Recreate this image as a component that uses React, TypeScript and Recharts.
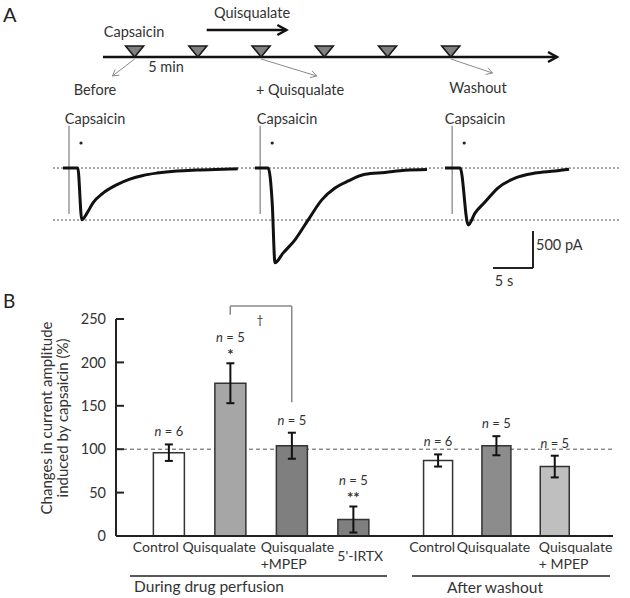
import React from 'react';
import {
  BarChart, Bar, XAxis, YAxis, ErrorBar, ReferenceLine, ReferenceDot, LabelList, Cell,
  LineChart, Line, ScatterChart, Scatter,
} from 'recharts';

const FONT = 'Lato, "Noto Sans", sans-serif';
const INK = '#222';
const TEXT = '#333';

// ---- Panel A: protocol (minutes) ----
const capsaicinTimes = [0, 5, 10, 15, 20, 25];
const quisqualateSpan = [5.7, 12];
const sampledTimes = [0, 10, 25];

// ---- Panel A: current traces (time in s, current in pA) ----
const beforeTime = [1.25, 3.1, 3.6, 4.25, 5.0, 6.25, 8.0, 9.6, 11.25, 13.0, 15.5, 18.0, 22.1, 23.1];
const beforeCurrent = [0, 0, -700, -610, -470, -340, -225, -150, -100, -68, -40, -27, -14, -10];
const quisTime = [25.25, 26.9, 27.4, 27.75, 28.75, 30.25, 31.9, 33.6, 35.25, 36.9, 39.0, 41.5, 44.0, 46.75];
const quisCurrent = [0, 0, -470, -1280, -1150, -970, -700, -430, -270, -175, -85, -60, -30, -20];
const washTime = [49.0, 50.9, 51.9, 52.75, 54.0, 55.6, 57.75, 60.25, 62.75, 64.5];
const washCurrent = [0, 0, -770, -610, -460, -270, -135, -68, -40, -15];
const capsaicinOnset = [2.0, 25.9, 49.9];
const peakBefore = -703;

// ---- Panel B: amplitude (% of before) ----
const duringLabels = ['Control', 'Quisqualate', 'Quisqualate\n+MPEP', "5'-IRTX"];
const duringMean = [96, 176, 104, 19];
const duringSem = [9.5, 23, 15, 15];
const duringN = [6, 5, 5, 5];
const duringMarks = ['', '*', '', '**'];
const afterLabels = ['Control', 'Quisqualate', 'Quisqualate\n+ MPEP'];
const afterMean = [87, 104, 80];
const afterSem = [7, 11, 12.5];
const afterN = [6, 5, 5];
const afterMarks = ['', '', ''];
const yTicks = [0, 50, 100, 150, 200, 250];

const duringFill = ['#ffffff', '#a6a6a6', '#7f7f7f', '#7f7f7f'];
const afterFill = ['#ffffff', '#8c8c8c', '#bfbfbf'];

const toPoints = (t: number[], pA: number[]) => t.map((v, i) => ({ t: v, pA: pA[i] }));
const rows = (labels: string[], mean: number[], sem: number[], n: number[], marks: string[]) =>
  labels.map((label, i) => ({ label, mean: mean[i], sem: sem[i], n: n[i], mark: marks[i] }));

const duringData = rows(duringLabels, duringMean, duringSem, duringN, duringMarks);
const afterData = rows(afterLabels, afterMean, afterSem, afterN, afterMarks);

// line with open chevron head, used as ReferenceLine shape
const arrowShape = (color: string, width: number, head: number, spread: number) => (p: any) => {
  const { x1, y1, x2, y2 } = p;
  const a = Math.atan2(y2 - y1, x2 - x1);
  const c = Math.cos(a);
  const s = Math.sin(a);
  const w1 = `${x2 - head * c + spread * s},${y2 - head * s - spread * c}`;
  const w2 = `${x2 - head * c - spread * s},${y2 - head * s + spread * c}`;
  return (
    <g>
      <line x1={x1} y1={y1} x2={x2} y2={y2} stroke={color} strokeWidth={width} />
      <path d={`M${w1} L${x2},${y2} L${w2}`} fill="none" stroke={color} strokeWidth={width} />
    </g>
  );
};

const DownTriangle = (props: any) => {
  const { cx, cy } = props;
  return (
    <path
      d={`M${cx - 9},${cy - 11} L${cx + 9},${cy - 11} L${cx},${cy} Z`}
      fill="#7f7f7f"
      stroke="#1a1a1a"
      strokeWidth={1.6}
    />
  );
};

// n = x and significance marks above each error bar
const nLabel = (data: any[]) => (props: any) => {
  const vb = props.viewBox && props.viewBox.width != null ? props.viewBox : props;
  const row = data[props.index];
  if (!row) return null;
  const h = Math.abs(vb.height);
  const base = vb.y + h;
  const unit = h / row.mean;
  const top = base - (row.mean + row.sem) * unit;
  const cx = vb.x + vb.width / 2;
  return (
    <g fontFamily={FONT} fill={TEXT}>
      {row.mark ? (
        <text x={cx} y={top - 3} textAnchor="middle" fontSize={15} fontWeight="bold">{row.mark}</text>
      ) : null}
      <text x={cx} y={row.mark ? top - 21 : top - 8} textAnchor="middle" fontSize={13}>
        <tspan fontStyle="italic">n</tspan> = {row.n}
      </text>
    </g>
  );
};

type TickLayout = { dx: number; dy: number; anchor: 'start' | 'middle' };
const categoryTick = (layout: TickLayout[]) => (props: any) => {
  const { x, y, payload, index } = props;
  const l = layout[index] || { dx: 0, dy: 16, anchor: 'middle' };
  const lines = String(payload.value).split('\n');
  return (
    <g>
      {lines.map((s, i) => (
        <text
          key={i}
          x={x + l.dx}
          y={y + l.dy + i * 17}
          textAnchor={l.anchor}
          fontFamily={FONT}
          fontSize={14}
          fill={TEXT}
        >
          {s}
        </text>
      ))}
    </g>
  );
};

const duringTicks: TickLayout[] = [
  { dx: -13, dy: 16, anchor: 'middle' },
  { dx: -11, dy: 16, anchor: 'middle' },
  { dx: -31, dy: 16, anchor: 'start' },
  { dx: 7, dy: 25, anchor: 'middle' },
];
const afterTicks: TickLayout[] = [
  { dx: -6, dy: 16, anchor: 'middle' },
  { dx: -3, dy: 16, anchor: 'middle' },
  { dx: -16, dy: 16, anchor: 'start' },
];

const axisStroke = { stroke: INK, strokeWidth: 2 };

export default function App() {
  const traces = [toPoints(beforeTime, beforeCurrent), toPoints(quisTime, quisCurrent), toPoints(washTime, washCurrent)];
  const text = { fontFamily: FONT, fill: TEXT, fontSize: 14.5 } as const;

  return (
    <div style={{ position: 'relative', width: 630, height: 598, background: '#fff', overflow: 'hidden' }}>
      <style>{'body{margin:0}'}</style>

      {/* protocol timeline */}
      <div style={{ position: 'absolute', left: 0, top: 0 }}>
        <ScatterChart width={630} height={105} margin={{ top: 0, right: 73, bottom: 5, left: 103 }}>
          <XAxis type="number" dataKey="t" domain={[-2.5, 33.4]} hide />
          <YAxis type="number" dataKey="row" domain={[0, 100]} reversed hide />
          <ReferenceLine
            segment={[{ x: -2.5, y: 57 }, { x: 33.4, y: 57 }]}
            ifOverflow="visible"
            shape={arrowShape('#111', 2.5, 9, 5)}
          />
          <ReferenceLine
            segment={[{ x: quisqualateSpan[0], y: 30 }, { x: quisqualateSpan[1], y: 30 }]}
            ifOverflow="visible"
            shape={arrowShape('#111', 2.5, 9, 5)}
          />
          <ReferenceLine segment={[{ x: sampledTimes[0], y: 59 }, { x: sampledTimes[0] - 1.75, y: 76 }]} ifOverflow="visible" shape={arrowShape('#8a8a8a', 1, 6, 3.5)} />
          <ReferenceLine segment={[{ x: sampledTimes[1], y: 59 }, { x: sampledTimes[1] + 4.4, y: 76 }]} ifOverflow="visible" shape={arrowShape('#8a8a8a', 1, 6, 3.5)} />
          <ReferenceLine segment={[{ x: sampledTimes[2], y: 59 }, { x: sampledTimes[2] + 3.3, y: 73 }]} ifOverflow="visible" shape={arrowShape('#8a8a8a', 1, 6, 3.5)} />
          <Scatter
            data={capsaicinTimes.map((t) => ({ t, row: 57 }))}
            shape={DownTriangle}
            isAnimationActive={false}
          />
        </ScatterChart>
      </div>

      {/* current traces */}
      <div style={{ position: 'absolute', left: 0, top: 100 }}>
        <LineChart width={630} height={200} margin={{ top: 8, right: 9, bottom: 8, left: 53 }}>
          <XAxis type="number" dataKey="t" domain={[0, 71]} hide />
          <YAxis type="number" domain={[-1675, 811]} hide />
          <ReferenceLine y={0} stroke="#555" strokeDasharray="2 2" />
          <ReferenceLine y={peakBefore} stroke="#555" strokeDasharray="2 2" />
          {capsaicinOnset.map((t) => (
            <ReferenceLine key={`on-${t}`} segment={[{ x: t, y: 570 }, { x: t, y: -620 }]} stroke="#9a9a9a" strokeWidth={1.5} />
          ))}
          {capsaicinOnset.map((t) => (
            <ReferenceDot key={`dot-${t}`} x={t + 1.5} y={338} r={1.6} fill={INK} stroke="none" />
          ))}
          <ReferenceLine segment={[{ x: 60, y: -850 }, { x: 60, y: -1350 }]} stroke={INK} strokeWidth={2} />
          <ReferenceLine segment={[{ x: 55, y: -1350 }, { x: 60, y: -1350 }]} stroke={INK} strokeWidth={2} />
          {traces.map((d, i) => (
            <Line
              key={i}
              data={d}
              dataKey="pA"
              type="monotone"
              stroke="#111"
              strokeWidth={3}
              dot={false}
              isAnimationActive={false}
            />
          ))}
        </LineChart>
      </div>

      {/* panel B, during drug perfusion */}
      <div style={{ position: 'absolute', left: 0, top: 290 }}>
        <BarChart width={384} height={300} data={duringData} margin={{ top: 29, right: 0, bottom: 4, left: 0 }} barCategoryGap="25%">
          <ReferenceLine y={100} stroke="#555" strokeDasharray="4 3" zIndex={-10} />
          <XAxis
            dataKey="label"
            height={50}
            padding={{ left: 22, right: 0 }}
            axisLine={axisStroke}
            tickLine={false}
            tickSize={0}
            tickMargin={0}
            interval={0}
            tick={categoryTick(duringTicks)}
          />
          <YAxis
            width={116}
            domain={[0, 250]}
            ticks={yTicks}
            interval={0}
            axisLine={axisStroke}
            tickLine={axisStroke}
            tickSize={-8}
            tickMargin={18}
            tick={{ fontFamily: FONT, fontSize: 14.5, fill: TEXT }}
          />
          <Bar dataKey="mean" stroke="#333" strokeWidth={1.5} isAnimationActive={false}>
            {duringData.map((d, i) => (
              <Cell key={d.label} fill={duringFill[i]} />
            ))}
            <ErrorBar dataKey="sem" width={4} strokeWidth={2} stroke="#111" direction="y" />
            <LabelList dataKey="mean" content={nLabel(duringData)} />
          </Bar>
          <ReferenceLine segment={[{ x: duringLabels[1], y: 255 }, { x: duringLabels[1], y: 265 }]} ifOverflow="visible" stroke="#8a8a8a" strokeWidth={1.5} />
          <ReferenceLine segment={[{ x: duringLabels[1], y: 265 }, { x: duringLabels[2], y: 265 }]} ifOverflow="visible" stroke="#8a8a8a" strokeWidth={1.5} />
          <ReferenceLine segment={[{ x: duringLabels[2], y: 265 }, { x: duringLabels[2], y: 154 }]} ifOverflow="visible" stroke="#8a8a8a" strokeWidth={1.5} />
        </BarChart>
      </div>

      {/* panel B, after washout */}
      <div style={{ position: 'absolute', left: 384, top: 290 }}>
        <BarChart width={240} height={300} data={afterData} margin={{ top: 29, right: 11, bottom: 4, left: 0 }} barCategoryGap="25%">
          <ReferenceLine y={100} stroke="#555" strokeDasharray="4 3" zIndex={-10} />
          <XAxis
            dataKey="label"
            height={50}
            padding={{ left: 25, right: 29 }}
            axisLine={axisStroke}
            tickLine={false}
            tickSize={0}
            tickMargin={0}
            interval={0}
            tick={categoryTick(afterTicks)}
          />
          <YAxis domain={[0, 250]} hide />
          <Bar dataKey="mean" stroke="#333" strokeWidth={1.5} isAnimationActive={false}>
            {afterData.map((d, i) => (
              <Cell key={d.label} fill={afterFill[i]} />
            ))}
            <ErrorBar dataKey="sem" width={4} strokeWidth={2} stroke="#111" direction="y" />
            <LabelList dataKey="mean" content={nLabel(afterData)} />
          </Bar>
        </BarChart>
      </div>

      {/* labels */}
      <svg width={630} height={598} style={{ position: 'absolute', left: 0, top: 0, pointerEvents: 'none' }}>
        <text x={3} y={22} fontFamily={FONT} fontSize={20} fill={INK}>A</text>
        <text x={252} y={18} textAnchor="middle" {...text}>Quisqualate</text>
        <text x={134} y={37} textAnchor="middle" {...text}>Capsaicin</text>
        <text x={166} y={72} textAnchor="middle" {...text}>5 min</text>
        <text x={95} y={95} textAnchor="middle" {...text}>Before</text>
        <text x={300} y={95} textAnchor="middle" {...text}>+ Quisqualate</text>
        <text x={478} y={93} textAnchor="middle" {...text}>Washout</text>

        <text x={95} y={124} textAnchor="middle" {...text}>Capsaicin</text>
        <text x={287} y={124} textAnchor="middle" {...text}>Capsaicin</text>
        <text x={475} y={124} textAnchor="middle" {...text}>Capsaicin</text>
        <text x={536} y={250} {...text}>500 pA</text>
        <text x={504} y={286} textAnchor="middle" {...text}>5 s</text>

        <text x={3} y={308} fontFamily={FONT} fontSize={19} fill={INK}>B</text>
        <text x={52} y={418} textAnchor="middle" transform="rotate(-90 52 418)" {...text} fontSize={15}>
          Changes in current amplitude
        </text>
        <text x={68} y={418} textAnchor="middle" transform="rotate(-90 68 418)" {...text} fontSize={15}>
          induced by capsaicin (%)
        </text>
        <text x={260} y={324} textAnchor="middle" fontFamily={FONT} fontSize={12} fill={TEXT}>†</text>

        <line x1={130} y1={576} x2={387} y2={576} stroke={INK} strokeWidth={1.5} />
        <line x1={412} y1={576} x2={610} y2={576} stroke={INK} strokeWidth={1.5} />
        <text x={209} y={592} textAnchor="middle" {...text} fontSize={15.5}>During drug perfusion</text>
        <text x={495} y={593} textAnchor="middle" {...text} fontSize={15.5}>After washout</text>
      </svg>
    </div>
  );
}
